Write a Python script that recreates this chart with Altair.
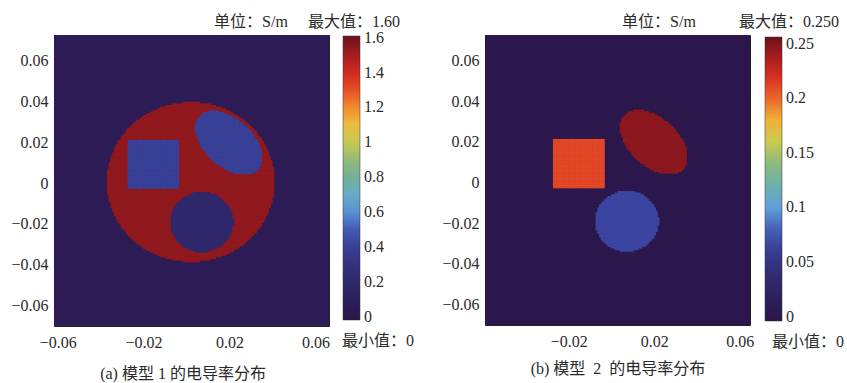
import numpy as np
import pandas as pd
import altair as alt

FONT = "Liberation Serif, Noto Sans CJK SC"
NUM_FONT = "Liberation Serif"
TEXT_COLOR = "#2a2a2a"

# ---- phantom geometry (data coordinates, metres) ----
shape_kind = ["disk", "square", "ellipse", "disk"]
center_x = [0.002, -0.015, 0.0198, 0.0072]
center_y = [0.0005, 0.009, 0.0198, -0.019]
semi_a = [0.039, 0.012, 0.019, 0.0148]
semi_b = [0.039, 0.012, 0.0115, 0.0148]
tilt_deg = [0, 0, -45, 0]

# ---- conductivity values (S/m) ----
model1_values = [1.54, 0.40, 0.40, 0.20]
model1_background = 0.06
model2_values = [0.0, 0.209, 0.246, 0.07]
model2_background = 0.0

# ---- axes / colorbar ----
x_ticks = [-0.06, -0.02, 0.02, 0.06]
y_ticks = [-0.06, -0.04, -0.02, 0, 0.02, 0.04, 0.06]
cbar1_ticks = [0, 0.2, 0.4, 0.6, 0.8, 1, 1.2, 1.4, 1.6]
cbar2_ticks = [0, 0.05, 0.1, 0.15, 0.2, 0.25]
cbar1_domain = [-0.02, 1.61]
cbar2_domain = [-0.004, 0.256]
x1_domain = [-0.0617, 0.0663]
x2_domain = [-0.0592, 0.0648]
y_domain = [-0.070, 0.0725]

cmap_fracs = [0, .1, .2, .3, .35, .4, .45, .5, .55, .6, .65, .7, .75, .8, .85, .9, .95, 1]
cmap_colors = ["#2a1548", "#2e2262", "#34327f", "#3d4aa8", "#5078c8", "#60a0d8",
               "#6ab0c0", "#70b09a", "#88b880", "#b0c460", "#d8d048", "#f0b83a",
               "#f08a2c", "#e85628", "#dc3224", "#c02020", "#981a1e", "#6a1218"]

# ---- pixel grid of the phantom ----
cell = 0.0008
grid_lo = [-0.0625, -0.0715]
grid_hi = [0.0675, 0.0740]
xs = np.arange(grid_lo[0], grid_hi[0], cell)
ys = np.arange(grid_lo[1], grid_hi[1], cell)
GX, GY = np.meshgrid(xs + cell / 2, ys + cell / 2)


def model_frame(values, background):
    v = np.full(GX.shape, background)
    for k, cx, cy, a, b, t, m in zip(shape_kind, center_x, center_y, semi_a, semi_b,
                                     tilt_deg, values):
        dx, dy = GX - cx, GY - cy
        th = np.deg2rad(t)
        u = dx * np.cos(th) + dy * np.sin(th)
        w = -dx * np.sin(th) + dy * np.cos(th)
        if k == "square":
            mask = (np.abs(u) <= a) & (np.abs(w) <= b)
        else:
            mask = (u / a) ** 2 + (w / b) ** 2 <= 1
        v[mask] = m
    keep = v != background
    ov = cell * 0.15  # slight overlap hides seams between neighbouring cells
    cells = pd.DataFrame({
        "x0": (GX[keep] - cell / 2 - ov).round(6),
        "x1": (GX[keep] + cell / 2 + ov).round(6),
        "y0": (GY[keep] - cell / 2 - ov).round(6),
        "y1": (GY[keep] + cell / 2 + ov).round(6),
        "v": v[keep],
    })
    back = pd.DataFrame({"x0": [grid_lo[0]], "x1": [grid_hi[0]],
                         "y0": [grid_lo[1]], "y1": [grid_hi[1]], "v": [background]})
    return pd.concat([back, cells], ignore_index=True)


def label(text, px, py, size=16):
    return alt.Chart(pd.DataFrame({"t": [text]})).mark_text(
        font=FONT, fontSize=size, color=TEXT_COLOR, align="center", baseline="middle"
    ).encode(x=alt.value(px), y=alt.value(py), text="t:N")


def panel(df, cdom, ticks, xdom, width, height, lx, ly, texts):
    stops = [cdom[0] + f * (cdom[1] - cdom[0]) for f in cmap_fracs]
    cscale = alt.Scale(domain=stops, range=cmap_colors, interpolate="rgb")
    axis_style = dict(format="~g", title=None, labelFont=NUM_FONT, labelFontSize=16,
                      labelColor=TEXT_COLOR, ticks=False, domain=False, grid=False)
    heat = alt.Chart(df).mark_rect(clip=True, strokeWidth=0).encode(
        x=alt.X("x0:Q", scale=alt.Scale(domain=xdom, nice=False, zero=False),
                axis=alt.Axis(values=x_ticks, labelPadding=8, **axis_style)),
        x2="x1:Q",
        y=alt.Y("y0:Q", scale=alt.Scale(domain=y_domain, nice=False, zero=False),
                axis=alt.Axis(values=y_ticks, labelPadding=6, **axis_style)),
        y2="y1:Q",
        color=alt.Color("v:Q", scale=cscale, legend=alt.Legend(
            type="gradient", orient="none", legendX=lx, legendY=ly,
            direction="vertical", gradientLength=284, gradientThickness=17,
            title=None, values=ticks, format="~g", labelFont=NUM_FONT,
            labelFontSize=16, labelColor=TEXT_COLOR, labelOffset=4,
            labelOverlap=False, padding=0,
            gradientStrokeColor="#333", gradientStrokeWidth=0.5)),
    )
    layers = [heat] + [label(*t) for t in texts]
    return alt.layer(*layers).properties(width=width, height=height)


panel_a = panel(model_frame(model1_values, model1_background), cbar1_domain,
                cbar1_ticks, x1_domain, 275, 291, 289, 1, [
                    ("单位：S/m", 197, -13),
                    ("最大值：1.60", 300, -13),
                    ("最小值：0", 324, 306),
                    ("(a) 模型 1 的电导率分布", 129, 339),
                ])
panel_b = panel(model_frame(model2_values, model2_background), cbar2_domain,
                cbar2_ticks, x2_domain, 265, 290, 280, 2, [
                    ("单位：S/m", 174, -13),
                    ("最大值：0.250", 304, -13),
                    ("最小值：0", 323, 307),
                    ("(b) 模型\u00a0 2\u00a0 的电导率分布", 133, 334),
                ])

chart = alt.HConcatChart(
    hconcat=[panel_a, panel_b], spacing=156, bounds="flush",
    padding={"left": 10, "top": 13, "right": 0, "bottom": 0},
    background="white",
).resolve_scale(
    color="independent", x="independent", y="independent"
).configure_view(
    stroke="#222", strokeWidth=1
)

chart.save("out.html", embed_options={"renderer": "svg", "actions": False})
